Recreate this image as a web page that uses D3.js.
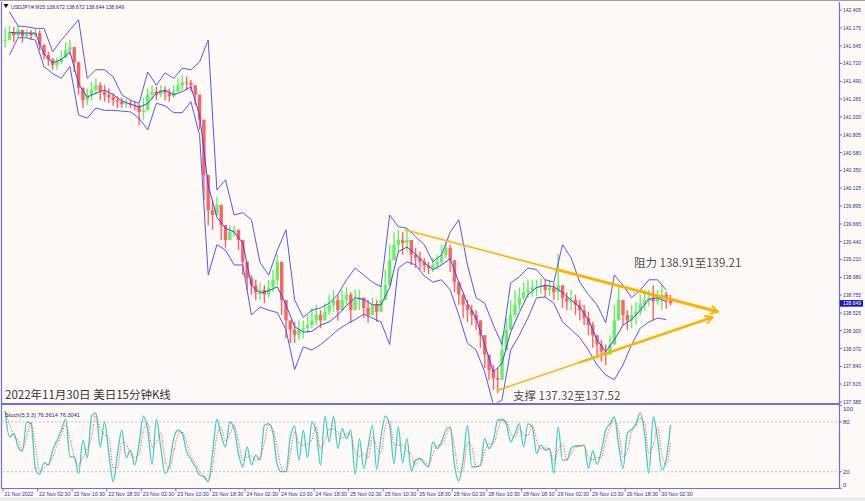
<!DOCTYPE html>
<html><head><meta charset="utf-8">
<script src="https://cdn.jsdelivr.net/npm/d3@7"></script>
<style>
html,body{margin:0;padding:0;background:#fdfaf8;}
svg{display:block;}
</style></head><body>
<svg id="c" width="865" height="501"></svg>
<script>
// ---------- DATA (hourly aggregation of the M15 chart) ----------
const closes = [
142.02,142.12,142.08,142.15,142.07,142.11,142.08,142.11,141.96,141.83,
141.77,141.70,141.74,141.79,141.89,141.93,141.74,141.41,141.25,141.32,
141.38,141.44,141.36,141.32,141.29,141.25,141.23,141.20,141.21,141.19,
141.18,141.10,141.12,141.32,141.36,141.32,141.38,141.34,141.30,141.36,
141.44,141.48,141.47,141.44,141.32,141.00,140.29,139.84,139.78,139.91,
139.65,139.46,139.56,139.59,139.46,139.18,138.97,138.88,138.79,138.82,
138.76,138.85,138.95,139.18,138.69,138.43,138.31,138.24,138.31,138.33,
138.37,138.43,138.50,138.43,138.54,138.63,138.69,138.56,138.69,138.76,
138.56,138.69,138.72,138.59,138.50,138.63,138.54,138.69,138.88,139.20,
139.40,139.46,139.42,139.46,139.27,139.23,139.18,139.13,139.10,139.14,
139.18,139.27,139.36,139.20,138.92,138.76,138.63,138.56,138.50,138.43,
138.24,137.99,137.79,137.69,137.67,138.05,138.31,138.50,138.63,138.72,
138.79,138.82,138.85,138.86,138.88,138.82,138.85,138.79,138.88,138.72,
138.67,138.69,138.63,138.56,138.46,138.37,138.24,138.12,138.03,137.99,
138.12,138.43,138.69,138.50,138.43,138.50,138.54,138.63,138.69,138.72,
138.67,138.72,138.76,138.70,138.649];
const highs = [
142.17,142.21,142.19,142.21,142.15,142.16,142.15,142.17,142.15,141.96,
141.87,141.79,141.80,141.89,141.99,142.02,141.89,141.57,141.38,141.40,
141.48,141.53,141.48,141.44,141.40,141.34,141.30,141.28,141.27,141.25,
141.23,141.20,141.28,141.40,141.44,141.42,141.44,141.43,141.40,141.44,
141.53,141.57,141.55,141.51,141.44,141.25,140.87,140.04,139.97,140.01,
139.84,139.65,139.65,139.64,139.59,139.33,139.14,139.01,138.95,138.91,
138.88,138.95,139.08,139.27,138.88,138.63,138.43,138.41,138.43,138.43,
138.50,138.59,138.63,138.56,138.65,138.76,138.82,138.76,138.82,138.85,
138.79,138.82,138.82,138.72,138.69,138.72,138.69,138.88,139.08,139.40,
139.56,139.59,139.56,139.59,139.46,139.36,139.31,139.23,139.18,139.23,
139.27,139.40,139.43,139.40,139.10,138.91,138.76,138.69,138.63,138.56,
138.41,138.18,137.95,137.86,137.82,138.24,138.46,138.69,138.82,138.85,
138.92,138.95,138.95,138.95,138.97,138.95,138.95,138.91,139.29,138.88,
138.79,138.82,138.76,138.69,138.63,138.54,138.41,138.24,138.18,138.12,
138.24,138.63,138.86,138.69,138.56,138.63,138.67,138.76,138.82,138.82,
138.88,138.82,138.88,138.80,138.76];
const lows = [
141.92,142.02,141.99,142.05,141.99,142.05,142.02,142.06,141.89,141.77,
141.69,141.64,141.64,141.71,141.82,141.83,141.61,141.32,141.15,141.19,
141.25,141.32,141.25,141.23,141.21,141.18,141.15,141.15,141.15,141.15,
141.12,140.93,141.00,141.19,141.25,141.25,141.29,141.25,141.23,141.28,
141.36,141.38,141.38,141.36,141.19,140.87,139.97,139.65,139.59,139.78,
139.46,139.36,139.46,139.50,139.33,139.01,138.82,138.76,138.69,138.69,
138.65,138.72,138.79,138.88,138.50,138.20,138.14,138.14,138.18,138.20,
138.27,138.33,138.37,138.33,138.43,138.50,138.54,138.43,138.56,138.63,
138.40,138.56,138.56,138.46,138.40,138.50,138.41,138.56,138.69,138.95,
139.23,139.31,139.27,139.31,139.14,139.10,139.08,139.05,139.02,139.05,
139.08,139.14,139.23,139.05,138.79,138.63,138.46,138.41,138.37,138.31,
138.08,137.82,137.67,137.54,137.50,137.77,138.12,138.31,138.46,138.56,
138.69,138.72,138.74,138.74,138.77,138.72,138.74,138.69,138.69,138.59,
138.56,138.56,138.50,138.43,138.37,138.24,138.08,137.95,137.90,137.86,
137.99,138.24,138.50,138.37,138.31,138.33,138.37,138.50,138.56,138.61,
138.43,138.63,138.56,138.58,138.62];
// Bollinger bands, one value every 2 hours
const bbUpper = [
142.38,142.20,142.19,142.17,142.17,141.87,142.02,142.15,142.28,141.53,
141.64,141.64,141.55,141.32,141.25,141.21,141.61,141.44,141.60,141.53,
141.66,141.64,141.74,142.02,140.10,140.23,139.78,139.81,139.72,139.17,
139.01,139.33,139.59,138.69,138.47,138.56,138.59,138.65,138.76,138.95,
139.10,139.01,138.92,138.86,139.78,139.63,139.61,139.50,139.40,139.18,
139.27,139.56,139.72,139.14,138.72,138.65,138.37,138.12,138.91,138.99,
139.10,139.08,138.95,138.92,139.40,139.23,138.92,138.76,138.63,138.40,
139.01,138.88,138.72,138.82,138.95,138.95,138.82];
const bbMiddle = [
142.12,142.11,142.11,142.11,141.84,141.73,141.77,141.87,141.46,141.29,
141.34,141.38,141.32,141.24,141.20,141.16,141.21,141.34,141.38,141.32,
141.36,141.42,141.06,140.16,139.75,139.61,139.56,139.42,138.88,138.78,
138.81,138.86,138.63,138.35,138.28,138.29,138.37,138.41,138.50,138.62,
138.72,138.70,138.63,138.63,138.85,139.31,139.37,139.28,139.17,139.08,
139.14,139.22,138.92,138.65,138.46,138.12,137.77,137.88,138.28,138.53,
138.76,138.85,138.88,138.86,138.79,138.69,138.60,138.44,138.18,138.03,
138.18,138.37,138.44,138.56,138.70,138.72,138.67];
const bbLower = [
141.83,142.05,142.05,142.02,141.68,141.59,141.53,141.68,141.06,141.02,
141.15,141.12,141.12,141.11,141.10,141.02,140.87,141.21,141.18,141.09,
141.09,141.23,140.80,139.01,139.40,139.33,139.14,139.14,138.50,138.60,
138.56,138.53,138.31,137.80,138.09,138.05,138.12,138.21,138.31,138.38,
138.44,138.51,138.46,138.41,138.12,139.10,139.18,139.14,139.00,138.92,
138.95,138.82,138.50,138.14,138.05,137.77,137.35,137.41,138.05,138.24,
138.46,138.72,138.73,138.65,138.41,138.31,138.21,138.05,137.86,137.73,
137.67,137.86,138.12,138.33,138.41,138.46,138.44];
// Stochastic %K, hourly
const stochMain = [
93,62,66,50,45,80,78,24,17,31,
28,46,58,70,83,38,38,18,58,37,
87,91,50,80,42,8,42,70,37,46,
28,54,87,70,29,83,50,18,28,60,
70,66,44,35,26,16,14,8,42,83,
64,50,80,72,42,26,50,28,40,34,
76,78,66,28,20,20,62,75,34,70,
37,80,68,28,87,56,87,48,72,60,
70,17,60,24,50,76,23,62,87,76,
30,74,31,60,21,34,36,30,26,56,
48,56,70,74,28,9,34,76,26,26,
28,60,48,58,82,83,78,56,66,78,
50,78,74,42,52,46,48,18,74,34,
34,48,51,51,52,24,45,29,45,70,
78,86,52,24,66,71,78,91,66,18,
86,60,22,35,76.36];
const timeLabels = ["21 Nov 2022","22 Nov 02:30","22 Nov 10:30","22 Nov 18:30","23 Nov 02:30",
"23 Nov 10:30","23 Nov 18:30","24 Nov 02:30","24 Nov 10:30","24 Nov 18:30","25 Nov 02:30",
"25 Nov 10:30","25 Nov 18:30","28 Nov 02:30","28 Nov 10:30","28 Nov 18:30","29 Nov 02:30",
"29 Nov 10:30","29 Nov 18:30","30 Nov 02:30"];
const priceTicks = [142.405,142.175,141.945,141.720,141.490,141.265,141.035,140.805,140.580,
140.350,140.125,139.895,139.665,139.440,139.210,138.980,138.755,138.525,138.300,138.070,
137.840,137.615,137.385];
const stochTicks = [100,80,20,0];
const stochLevels = [80,20];
const lastPrice = 138.649;
const headerText = "USDJPY#,M15  138.672 138.672 138.644 138.649";
const stochText = "Stoch(5,3,3) 76.3614 76.3041";
const titleText = "2022年11月30日 美日15分钟K线";
const resistText = "阻力 138.91至139.21";
const supportText = "支撑 137.32至137.52";
// trend lines: [bar index, price]
const trendUpper = {from:[372,139.59], to:[662,138.54], thickFrom:511};
const trendLower = {from:[457,137.53], to:[657,138.47], thickFrom:534};

// ---------- LAYOUT ----------
const svg = d3.select("#c");
const PL = 2, PR = 839, MT = 2, MB = 403.5, ST = 405, SB = 488.5;
const x = d3.scaleLinear().domain([0,774]).range([3,839]);
const y = d3.scaleLinear().domain([137.385,142.405]).range([402,10]);
const ys = d3.scaleLinear().domain([0,100]).range([488.3,405.4]);
const barH = h => 4*h+2;
const barB = k => 8*k+6;

const BG = "#fdfaf8", FRAME = "#6e6ee0", AXT = "#2f2f9c";
svg.append("rect").attr("width",865).attr("height",501).attr("fill",BG);
svg.append("rect").attr("x",0).attr("y",497.5).attr("width",865).attr("height",4).attr("fill","#ebebeb");
svg.append("line").attr("x1",0).attr("x2",865).attr("y1",0.5).attr("y2",0.5).attr("stroke","#a0a0a0");

const defs = svg.append("defs");
defs.append("clipPath").attr("id","cm").append("rect").attr("x",PL).attr("y",MT).attr("width",PR-PL).attr("height",MB-MT-1);
defs.append("clipPath").attr("id","cs").append("rect").attr("x",PL).attr("y",ST).attr("width",PR-PL).attr("height",SB-ST);
defs.append("marker").attr("id","arr").attr("viewBox","-10 -6 12 12").attr("refX",0).attr("refY",0)
  .attr("markerWidth",11).attr("markerHeight",11).attr("markerUnits","userSpaceOnUse").attr("orient","auto")
  .append("path").attr("d","M-8,-4.5 L0,0 L-8,4.5").attr("fill","none").attr("stroke","#FFB300").attr("stroke-width",2);

// ---------- MAIN PANEL ----------
const gm = svg.append("g").attr("clip-path","url(#cm)");
const candles = closes.map((c,i)=>{
  const o = i>0 ? closes[i-1] : c;
  return {b:barH(i), o, c, h:Math.max(highs[i],o,c), l:Math.min(lows[i],o,c)};
});
const UP = "#66f066", DN = "#ff6262";
gm.selectAll("line.w").data(candles).join("line")
  .attr("x1",d=>x(d.b)).attr("x2",d=>x(d.b)).attr("y1",d=>y(d.h)).attr("y2",d=>y(d.l))
  .attr("stroke",d=>d.c>=d.o?UP:DN).attr("stroke-width",1.4);
gm.selectAll("rect.b").data(candles).join("rect")
  .attr("x",d=>x(d.b)-1.7).attr("width",3.4)
  .attr("y",d=>y(Math.max(d.o,d.c))).attr("height",d=>Math.max(1,Math.abs(y(d.o)-y(d.c))))
  .attr("fill",d=>d.c>=d.o?UP:DN);

const bandLine = d3.line().x((v,k)=>x(barB(k))).y(v=>y(v));
[[bbUpper,"#5656f6"],[bbMiddle,"#4646e6"],[bbLower,"#5656f6"]].forEach(([arr,col])=>{
  gm.append("path").attr("d",bandLine(arr)).attr("fill","none").attr("stroke",col).attr("stroke-width",1);
});

// trend lines
function trend(t, wThin, wThick){
  const [b0,p0]=t.from,[b1,p1]=t.to;
  const pAt = b => p0+(b-b0)/(b1-b0)*(p1-p0);
  gm.append("line").attr("x1",x(b0)).attr("y1",y(p0)).attr("x2",x(b1)).attr("y2",y(p1))
    .attr("stroke","#FFB300").attr("stroke-width",wThin);
  svg.append("line").attr("x1",x(t.thickFrom)).attr("y1",y(pAt(t.thickFrom))).attr("x2",x(b1)).attr("y2",y(p1))
    .attr("stroke","#FFB300").attr("stroke-width",wThick).attr("marker-end","url(#arr)");
}
trend(trendUpper,1.6,3);
trend(trendLower,1.5,2.5);

// annotations
const CJK = "'Noto Sans CJK SC','Noto Sans',sans-serif";
svg.append("text").attr("x",634).attr("y",266.5).text(resistText)
  .attr("font-family",CJK).attr("font-size",11.5).attr("fill","#505050");
svg.append("text").attr("x",513).attr("y",399.5).text(supportText)
  .attr("font-family",CJK).attr("font-size",11.5).attr("fill","#505050");
svg.append("text").attr("x",5).attr("y",398.5).text(titleText)
  .attr("font-family",CJK).attr("font-size",11.5).attr("fill","#333");

// header
svg.append("path").attr("d","M3.5,4 L8.5,4 L6,8 Z").attr("fill","#111");
svg.append("text").attr("x",11).attr("y",9.2).text(headerText)
  .attr("font-family","Liberation Sans, Arial, sans-serif").attr("font-size",6.2).attr("fill","#1e1e8a")
  .attr("textLength",113).attr("lengthAdjust","spacingAndGlyphs");

// ---------- STOCH PANEL ----------
const gs = svg.append("g").attr("clip-path","url(#cs)");
stochLevels.forEach(v=>{
  gs.append("line").attr("x1",3).attr("x2",PR).attr("y1",ys(v)).attr("y2",ys(v))
    .attr("stroke","#bdbdbd").attr("stroke-dasharray","2,2").attr("stroke-width",1);
});
// signal line: short moving average of %K
const stochSignal = stochMain.map((v,i)=> i>0 ? (v+stochMain[i-1])/2 : v);
const sLine = d3.line().x((v,i)=>x(barH(i))).y(v=>ys(v)).curve(d3.curveMonotoneX);
gs.append("path").attr("d",sLine(stochMain)).attr("fill","none").attr("stroke","#3fcfc4").attr("stroke-width",1.3);
gs.append("path").attr("d",sLine(stochSignal)).attr("fill","none").attr("stroke","#ff3b3b")
  .attr("stroke-width",1).attr("stroke-dasharray","1,1.6");
svg.append("text").attr("x",5).attr("y",416.5).text(stochText)
  .attr("font-family","Liberation Sans, Arial, sans-serif").attr("font-size",6.2).attr("fill","#1e1e8a")
  .attr("textLength",75).attr("lengthAdjust","spacingAndGlyphs");

// ---------- FRAMES ----------
svg.append("line").attr("x1",1.5).attr("x2",1.5).attr("y1",MT).attr("y2",SB).attr("stroke",FRAME).attr("stroke-width",1.2);
svg.append("line").attr("x1",PR+0.5).attr("x2",PR+0.5).attr("y1",MT).attr("y2",SB).attr("stroke",FRAME).attr("stroke-width",1.2);
svg.append("line").attr("x1",1).attr("x2",PR+1).attr("y1",404).attr("y2",404).attr("stroke",FRAME).attr("stroke-width",2.2);
svg.append("line").attr("x1",1).attr("x2",PR+1).attr("y1",SB).attr("y2",SB).attr("stroke",FRAME).attr("stroke-width",1.2);

// ---------- AXES ----------
const AF = "Liberation Sans, Arial, sans-serif";
const gp = svg.append("g");
priceTicks.forEach(p=>{
  gp.append("line").attr("x1",PR).attr("x2",PR+3).attr("y1",y(p)).attr("y2",y(p)).attr("stroke",FRAME);
  gp.append("text").attr("x",843).attr("y",y(p)+2).text(p.toFixed(3))
    .attr("font-family",AF).attr("font-size",6).attr("fill",AXT)
    .attr("textLength",18).attr("lengthAdjust","spacingAndGlyphs");
});
gp.append("rect").attr("x",840).attr("y",y(lastPrice)-3.2).attr("width",23).attr("height",6.6).attr("fill","#1717c4");
gp.append("text").attr("x",843).attr("y",y(lastPrice)+2).text(lastPrice.toFixed(3))
  .attr("font-family",AF).attr("font-size",6).attr("fill","#fff")
  .attr("textLength",18).attr("lengthAdjust","spacingAndGlyphs");

stochTicks.forEach(v=>{
  const yy = Math.max(409, Math.min(485, ys(v)));
  gp.append("line").attr("x1",PR).attr("x2",PR+3).attr("y1",ys(v)).attr("y2",ys(v)).attr("stroke",FRAME);
  gp.append("text").attr("x",843).attr("y",yy+2).text(v)
    .attr("font-family",AF).attr("font-size",6).attr("fill",AXT);
});

timeLabels.forEach((t,i)=>{
  const xx = x(32*i);
  gp.append("line").attr("x1",xx).attr("x2",xx).attr("y1",SB).attr("y2",SB+3).attr("stroke",FRAME);
  gp.append("text").attr("x",xx+1.5).attr("y",495.5).text(t)
    .attr("font-family",AF).attr("font-size",6).attr("fill",AXT)
    .attr("textLength",t.length*2.62).attr("lengthAdjust","spacingAndGlyphs");
});
</script>
</body></html>
